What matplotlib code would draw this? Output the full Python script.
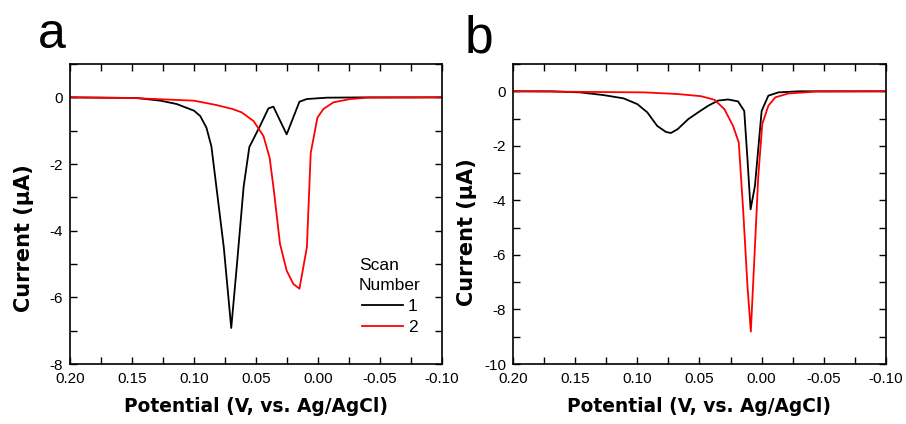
import numpy as np
import matplotlib
matplotlib.use('Agg')
import matplotlib.pyplot as plt
from matplotlib.ticker import MultipleLocator

plt.rcParams['font.family'] = ['Liberation Sans', 'DejaVu Sans']
plt.rcParams['axes.unicode_minus'] = False

# panel a, scan 1 (black) and scan 2 (red)
a1_E = [0.200, 0.146, 0.127, 0.114, 0.100, 0.095, 0.090, 0.086, 0.082, 0.076, 0.070,
        0.0656, 0.060, 0.0554, 0.0468, 0.040, 0.036, 0.0253, 0.015, 0.009, -0.007, -0.039, -0.100]
a1_I = [0.0, -0.02, -0.10, -0.20, -0.40, -0.56, -0.91, -1.47, -2.68, -4.50, -6.92,
        -5.10, -2.68, -1.49, -0.86, -0.33, -0.28, -1.11, -0.13, -0.05, -0.01, 0.0, 0.0]
a2_E = [0.200, 0.150, 0.100, 0.082, 0.069, 0.0616, 0.052, 0.044, 0.039, 0.0355, 0.0307,
        0.0253, 0.0199, 0.015, 0.009, 0.0059, 0.0005, -0.0043, -0.0124, -0.026, -0.040, -0.100]
a2_I = [0.0, -0.02, -0.10, -0.23, -0.35, -0.45, -0.71, -1.16, -1.82, -2.83, -4.39,
        -5.20, -5.60, -5.74, -4.50, -1.67, -0.61, -0.35, -0.15, -0.05, -0.01, 0.0]

# panel b
b1_E = [0.200, 0.170, 0.146, 0.127, 0.111, 0.100, 0.092, 0.084, 0.077, 0.073, 0.0676,
        0.059, 0.051, 0.043, 0.035, 0.027, 0.019, 0.014, 0.0114, 0.0089, 0.0054, 0.000,
        -0.0054, -0.0135, -0.030, -0.100]
b1_I = [0.0, 0.0, -0.04, -0.14, -0.26, -0.47, -0.77, -1.27, -1.49, -1.53, -1.39,
        -1.02, -0.77, -0.53, -0.34, -0.30, -0.37, -0.72, -2.49, -4.33, -3.47, -0.72,
        -0.16, -0.04, 0.0, 0.0]
b2_E = [0.200, 0.0946, 0.0676, 0.0487, 0.038, 0.030, 0.023, 0.0184, 0.0149, 0.0114, 0.0087,
        0.0059, 0.0027, -0.0005, -0.0054, -0.011, -0.0216, -0.044, -0.100]
b2_I = [0.0, -0.04, -0.10, -0.18, -0.31, -0.65, -1.27, -1.88, -4.33, -7.15, -8.81,
        -6.17, -3.11, -1.20, -0.53, -0.22, -0.08, -0.01, 0.0]

fig = plt.figure(figsize=(9.06, 4.24), dpi=100)
ax1 = fig.add_axes([0.0773, 0.1415, 0.4106, 0.7075])
ax2 = fig.add_axes([0.5662, 0.1415, 0.4117, 0.7075])

for ax in (ax1, ax2):
    ax.set_xlim(0.20, -0.10)
    ax.xaxis.set_major_locator(MultipleLocator(0.05))
    ax.xaxis.set_minor_locator(MultipleLocator(0.025))
    ax.yaxis.set_major_locator(MultipleLocator(2))
    ax.yaxis.set_minor_locator(MultipleLocator(1))
    ax.xaxis.set_major_formatter(plt.FormatStrFormatter('%.2f'))
    ax.tick_params(which='both', direction='in', top=True, right=True, labelsize=11)
    ax.tick_params(which='both', length=5, width=1)
    ax.tick_params(axis='x', which='major', pad=6)
    ax.tick_params(axis='y', which='major', pad=5)
    for s in ax.spines.values():
        s.set_linewidth(1.2)
    # wider bold face to match the spaced-out lettering of the original
    ax.set_xlabel('Potential (V, vs. Ag/AgCl)', fontsize=13.4, fontweight='bold',
                  family='DejaVu Sans', labelpad=8)
    ax.set_ylabel('Current (\u03bcA)', fontsize=15, fontweight='bold', family='DejaVu Sans')

ax1.yaxis.set_label_coords(-0.098, 0.42)
ax2.yaxis.set_label_coords(-0.096, 0.44)

ax1.set_ylim(-8, 1)
ax2.set_ylim(-10, 1)

ax1.plot(a1_E, a1_I, color='black', lw=1.3, label='1')
ax1.plot(a2_E, a2_I, color='red', lw=1.3, label='2')
ax2.plot(b1_E, b1_I, color='black', lw=1.3)
ax2.plot(b2_E, b2_I, color='red', lw=1.3)

leg = ax1.legend(title='Scan\nNumber', loc='lower right', bbox_to_anchor=(0.985, 0.045),
                 frameon=False, fontsize=12.5, title_fontsize=12.5, handlelength=2.35,
                 handletextpad=0.3, labelspacing=0.32)
leg.get_title().set_linespacing(1.45)

fig.text(0.042, 0.887, 'a', fontsize=36, ha='left', va='baseline')
fig.text(0.513, 0.877, 'b', fontsize=37, ha='left', va='baseline')

plt.savefig('out.png', dpi=100)
